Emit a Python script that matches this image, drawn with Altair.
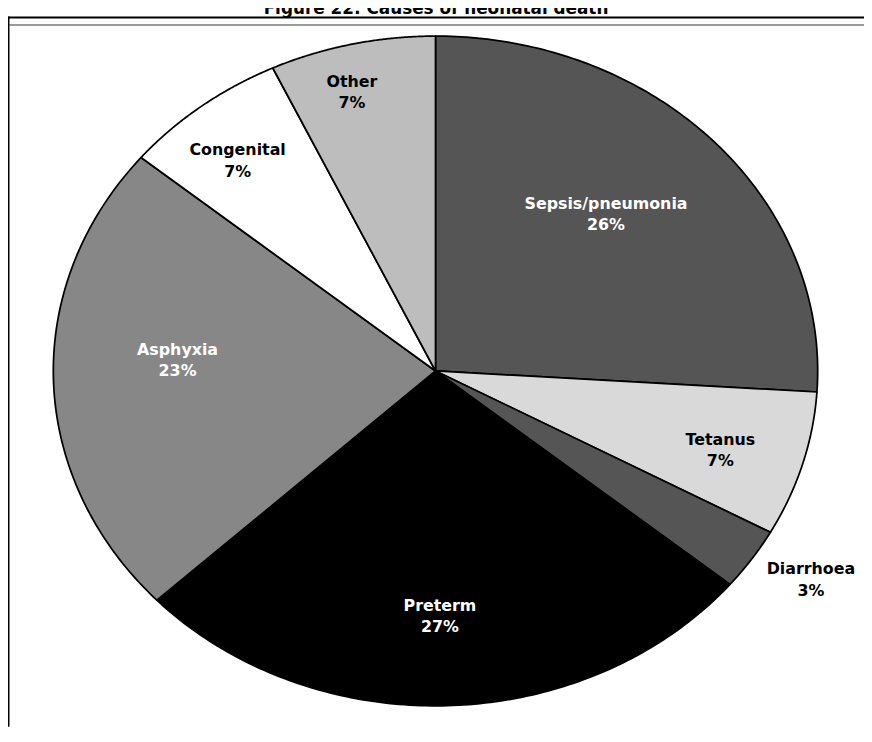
import altair as alt
import pandas as pd

# ---------------- data ----------------
causes = ["Sepsis/pneumonia", "Tetanus", "Diarrhoea", "Preterm", "Asphyxia", "Congenital", "Other"]
shares = [26, 7, 3, 27, 23, 7, 7]  # percent

TITLE = "Figure 22: Causes of neonatal death"

# ---------------- style / layout ----------------
slice_colors = ["#555555", "#d9d9d9", "#555555", "#000000", "#878787", "#ffffff", "#bdbdbd"]
label_colors = ["#ffffff", "#000000", "#000000", "#ffffff", "#ffffff", "#000000", "#000000"]
# label placement: distance from centre (fraction of pie radius) and angular nudge (degrees)
label_radius = [0.639, 0.772, 1.155, 0.734, 0.686, 0.820, 0.862]
label_nudge = [-3.8, 1.65, -1.5, 1.7, 4.4, -2.3, -2.8]

W, H = 864, 722
CX, CY = 431.5, 363.0      # pie centre (svg coords)
RX, RY = 385.75, 338.0     # pie is drawn as an ellipse
N = 120                    # points per slice edge

FONT = "DejaVu Sans"

xs = alt.Scale(domain=[-1, 1], range=[CX - RX, CX + RX], nice=False, zero=False)
ys = alt.Scale(domain=[-1, 1], range=[CY + RY, CY - RY], nice=False, zero=False)

df = pd.DataFrame({
    "cause": causes,
    "value": shares,
    "idx": list(range(len(causes))),
    "lr": label_radius,
    "ln": label_nudge,
})

base = alt.Chart(df).transform_joinaggregate(
    total="sum(value)"
).transform_window(
    cum="sum(value)", sort=[alt.SortField("idx")], frame=[None, 0]
).transform_calculate(
    start="datum.cum - datum.value"
)

pie = base.transform_calculate(
    k=f"sequence(-1, {N + 2})"
).transform_flatten(
    ["k"]
).transform_calculate(
    ang=f"2*PI*(datum.start + datum.value*clamp(datum.k, 0, {N})/{N})/datum.total"
).transform_calculate(
    px=f"(datum.k < 0 || datum.k > {N}) ? 0 : sin(datum.ang)",
    py=f"(datum.k < 0 || datum.k > {N}) ? 0 : cos(datum.ang)",
).mark_line(
    stroke="black", strokeWidth=1.75, strokeJoin="round"
).encode(
    x=alt.X("px:Q", scale=xs, axis=None),
    y=alt.Y("py:Q", scale=ys, axis=None),
    order=alt.Order("k:Q"),
    detail="cause:N",
    fill=alt.Fill("cause:N", scale=alt.Scale(domain=causes, range=slice_colors), legend=None),
)

labels = base.transform_calculate(
    mid="2*PI*(datum.start + datum.value/2)/datum.total + datum.ln*PI/180"
).transform_calculate(
    lx="datum.lr*sin(datum.mid)",
    ly="datum.lr*cos(datum.mid)",
    label="datum.cause + '\\n' + datum.value + '%'",
).mark_text(
    font=FONT, fontSize=16, fontWeight="bold", lineBreak="\n", lineHeight=21.5,
    align="center", baseline="middle", dy=-10.75, dx=4,
).encode(
    x=alt.X("lx:Q", scale=xs, axis=None),
    y=alt.Y("ly:Q", scale=ys, axis=None),
    text="label:N",
    color=alt.Color("cause:N", scale=alt.Scale(domain=causes, range=label_colors), legend=None),
)

one = pd.DataFrame({"a": [0]})

frame_top = alt.Chart(one).mark_rule(color="black", strokeWidth=2).encode(
    x=alt.value(-1), x2=alt.value(W), y=alt.value(6.3)
)
frame_gray = alt.Chart(one).mark_rule(color="#9a9a9a", strokeWidth=2).encode(
    x=alt.value(1.5), x2=alt.value(W), y=alt.value(13.7)
)
frame_left = alt.Chart(one).mark_rule(color="black", strokeWidth=2).encode(
    x=alt.value(0.5), y=alt.value(5.3), y2=alt.value(H)
)

title = alt.Chart(one).mark_text(
    font=FONT, fontSize=17, fontWeight="bold", align="center", baseline="alphabetic", color="black"
).encode(
    x=alt.value(432), y=alt.value(2.5), text=alt.value(TITLE)
)

chart = alt.layer(
    pie, labels, frame_top, frame_gray, frame_left, title
).properties(
    width=W, height=H, padding=0,
    autosize=alt.AutoSizeParams(type="none"),
).resolve_scale(
    color="independent"
).configure_view(
    stroke=None
)

chart.save("out.html", embed_options={"renderer": "svg", "actions": False})
